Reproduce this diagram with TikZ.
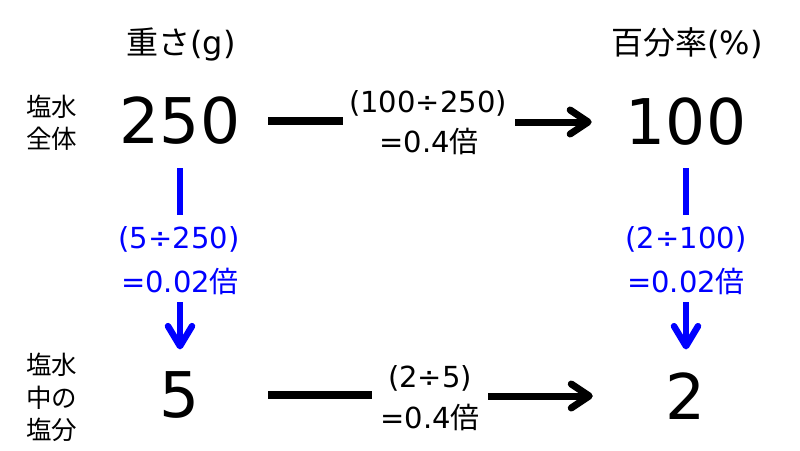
\documentclass[tikz,border=0pt]{standalone}
\usepackage{fontspec}
\setmainfont{DejaVu Sans}
\newfontfamily\jp{Noto Sans CJK JP}
\usetikzlibrary{arrows.meta}
\definecolor{myblue}{RGB}{0,0,255}
\begin{document}
\begin{tikzpicture}[x=1pt,y=-1pt,
  num/.style={inner sep=0pt, font=\fontsize{63}{63}\selectfont},
  hdr/.style={inner sep=0pt, anchor=base, font=\fontsize{32}{32}\selectfont},
  side/.style={inner sep=0pt, align=center, font=\fontsize{25.5}{32.5}\selectfont\jp},
  calc/.style={inner sep=0pt, anchor=base, font=\fontsize{29}{29}\selectfont},
  bluecalc/.style={calc, text=myblue},
  bar/.style={line width=7.5pt},
  arr/.style={line width=7pt, -{Straight Barb[length=18pt,width=24pt,line cap=round,line join=round]}},
  vbar/.style={line width=6.5pt, draw=myblue},
  varr/.style={line width=6.5pt, draw=myblue, -{Straight Barb[length=20pt,width=24pt,line cap=round,line join=round]}}
]
\fill[white] (0,0) rectangle (800,450);
\useasboundingbox (0,0) rectangle (800,450);
\node[hdr] (hL) at (181,54) {{\jp 重さ}(g)};
\node[hdr] (hR) at (687,54) {{\jp 百分率}(\%)};
\node[side] (sT) at (51.5,123) {塩水\\全体};
\node[side] (sB) at (51.5,397.5) {塩水\\中の\\塩分};
\node[num] (n250) at (180,121) {250};
\node[num] (n100) at (686,122) {100};
\node[num] (n5) at (180,395) {5};
\node[num] (n2) at (686,396) {2};
\node[calc] (t1) at (428,112) {(100÷250)};
\node[calc] (t2) at (429,152) {=0.4{\jp 倍}};
\node[calc] (b1) at (430,387) {(2÷5)};
\node[calc] (b2) at (430,428) {=0.4{\jp 倍}};
\node[bluecalc] (l1) at (179,248) {(5÷250)};
\node[bluecalc] (l2) at (180,292) {=0.02{\jp 倍}};
\node[bluecalc] (r1) at (686,248) {(2÷100)};
\node[bluecalc] (r2) at (686,292) {=0.02{\jp 倍}};
% horizontal connectors
\draw[bar, shorten <=28pt, shorten >=6pt] (n250.east) -- (n250.east -| t1.west);
\draw[arr, shorten <=8pt, shorten >=34pt] (t1.east |- n100.west) -- (n100.west);
\draw[bar, shorten <=68pt, shorten >=16pt] (n5.east) -- (n5.east -| b1.west);
\draw[arr, shorten <=16pt, shorten >=73pt] (b1.east |- n2.west) -- (n2.west);
% vertical connectors
\draw[vbar, shorten <=23pt, shorten >=11pt] (n250.south) -- (n250.south |- l1.north);
\draw[varr, shorten <=7.5pt, shorten >=22pt] (l2.south -| n5.north) -- (n5.north);
\draw[vbar, shorten <=22pt, shorten >=11pt] (n100.south) -- (n100.south |- r1.north);
\draw[varr, shorten <=7.5pt, shorten >=23pt] (r2.south -| n2.north) -- (n2.north);
\end{tikzpicture}
\end{document}
